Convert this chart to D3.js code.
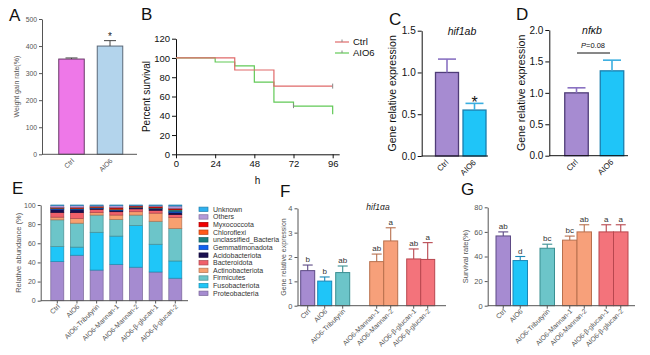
<!DOCTYPE html>
<html><head><meta charset="utf-8">
<script src="https://cdn.jsdelivr.net/npm/d3@7"></script>
<style>body{margin:0;background:#fff}</style>
</head><body><svg id="c" width="650" height="355"></svg>
<script>
// ================= DATA =================
const groupsAB = ["Ctrl", "AIO6"];
const weightGain = [352, 400];
const weightGainErr = [4, 20];
const ticksA = [0, 100, 200, 300, 400, 500];

const ctrlSurvHours = [0, 36, 60, 96];
const ctrlSurvPct = [100, 87.5, 70.8, 70.8];
const aio6SurvHours = [0, 24, 36, 48, 60, 72, 96];
const aio6SurvPct = [100, 95.8, 91.7, 75, 54.2, 50, 41.7];
const ticksBx = [0, 24, 48, 72, 96];
const ticksBy = [0, 20, 40, 60, 80, 100, 120];

const hif1ab = [1.0, 0.55];
const hif1abErr = [0.16, 0.08];
const ticksC = [0, 0.5, 1.0, 1.5];

const nfkb = [1.0, 1.35];
const nfkbErr = [0.08, 0.17];
const ticksD = [0, 0.5, 1.0, 1.5, 2.0];

const groupsEFG = ["Ctrl", "AIO6", "AIO6-Tributyrin", "AIO6-Mannan-1", "AIO6-Mannan-2", "AIO6-β-glucan-1", "AIO6-β-glucan-2"];
const proteobacteria       = [41, 47.5, 32, 38, 35, 30, 23.5];
const fusobacteriota       = [15.5, 8.5, 39.5, 29.5, 43.5, 29, 18];
const firmicutes           = [28, 25, 18, 17.5, 11, 24, 34];
const actinobacteriota     = [2.8, 5, 2.5, 4.5, 3.5, 8.5, 11.5];
const bacteroidota         = [5, 6, 3.5, 3.5, 3, 3, 3];
const acidobacteriota      = [3, 3, 1, 1.5, 1, 1.5, 2];
const gemmatimonadota      = [0.8, 0.8, 0.5, 0.5, 0.5, 0.5, 1.5];
const unclassifiedBacteria = [0.6, 0.5, 0.5, 0.5, 0.3, 0.5, 1.5];
const chloroflexi          = [0.3, 0.5, 0.5, 1, 0.7, 0.5, 0.5];
const myxococcota          = [0.5, 0.7, 0.5, 1, 0.5, 1, 1];
const others               = [2, 2, 1, 2, 0.5, 1, 2.5];
const unknown              = [0.5, 0.5, 0.5, 0.5, 0.5, 0.5, 1];
const ticksE = [0, 20, 40, 60, 80, 100];

const hif1aa = [1.44, 1.01, 1.36, 1.81, 2.66, 1.92, 1.9];
const hif1aaErr = [0.23, 0.17, 0.27, 0.31, 0.54, 0.41, 0.69];
const hif1aaLetters = ["b", "b", "ab", "ab", "a", "ab", "a"];
const ticksF = [0, 1, 2, 3, 4];

const survivalRate = [56.7, 36.7, 46.7, 53.3, 60, 60, 60];
const survivalErr = [3.3, 3.3, 3.3, 3.3, 5.8, 5.8, 5.8];
const survivalLetters = ["ab", "d", "bc", "bc", "ab", "a", "a"];
const ticksG = [0, 20, 40, 60, 80];

// ================= STYLE =================
const FONT = '"Liberation Sans", Arial, Helvetica, sans-serif';
const svg = d3.select("#c");
svg.append("rect").attr("width", 650).attr("height", 355).attr("fill", "#fff");
svg.style("font-family", FONT);

const colCtrlPurple = "#a68bd1", colAIO6Cyan = "#1fc5f8";
const fillEFG = ["#a68bd1", "#1fc5f8", "#6cc5c9", "#f7a07a", "#f7a07a", "#f3737b", "#f3737b"];
const strokeEFG = ["#5d4a85", "#1a88b8", "#3a8f92", "#b8704e", "#b8704e", "#b8474f", "#b8474f"];

function letter(t, x, y) {
  svg.append("text").attr("x", x).attr("y", y).attr("font-size", 17).attr("fill", "#111").text(t);
}

// positions from bar width + gaps (layout only)
function centersFrom(start, bw, gaps) {
  const out = [start + bw / 2];
  gaps.forEach(g => out.push(out[out.length - 1] + bw + g));
  return out;
}

function barPanel(o) {
  const y = d3.scaleLinear().domain([0, o.max]).range([o.bottom, o.top]);
  const x = o.x;
  const ax = svg.append("g").attr("transform", `translate(${o.left},0)`)
    .call(d3.axisLeft(y).tickValues(o.ticks).tickFormat(o.fmt).tickSizeInner(o.tick).tickSizeOuter(0).tickPadding(o.pad));
  ax.select(".domain").attr("stroke", o.axis).attr("stroke-width", o.sw);
  ax.selectAll(".tick line").attr("stroke", o.axis).attr("stroke-width", o.sw);
  ax.selectAll(".tick text").attr("fill", o.txt).attr("font-size", o.fs).attr("font-family", FONT);

  // bars
  svg.append("g").selectAll("rect").data(o.cats).join("rect")
    .attr("x", d => x(d) - o.bw / 2).attr("width", o.bw)
    .attr("y", (d, i) => y(o.vals[i])).attr("height", (d, i) => o.bottom - y(o.vals[i]))
    .attr("fill", (d, i) => o.fill[i]).attr("stroke", (d, i) => o.stroke[i]).attr("stroke-width", o.bsw);
  // error bars
  const eg = svg.append("g");
  o.cats.forEach((c, i) => {
    const cx = x(c), y1 = y(o.vals[i]), y2 = y(o.vals[i] + o.errs[i]);
    eg.append("line").attr("x1", cx).attr("x2", cx).attr("y1", y1).attr("y2", y2)
      .attr("stroke", o.ecol[i]).attr("stroke-width", o.esw);
    eg.append("line").attr("x1", cx - o.cap).attr("x2", cx + o.cap).attr("y1", y2).attr("y2", y2)
      .attr("stroke", o.ecol[i]).attr("stroke-width", o.esw);
    if (o.letters) {
      eg.append("text").attr("x", cx).attr("y", y2 - 3).attr("text-anchor", "middle")
        .attr("font-size", o.lfs).attr("fill", "#333").text(o.letters[i]);
    }
  });
  // x axis
  svg.append("line").attr("x1", o.left).attr("x2", o.right).attr("y1", o.bottom).attr("y2", o.bottom)
    .attr("stroke", o.axis).attr("stroke-width", o.sw);
  o.cats.forEach(c => {
    if (o.xtick) svg.append("line").attr("x1", x(c)).attr("x2", x(c)).attr("y1", o.bottom).attr("y2", o.bottom + o.xtick)
      .attr("stroke", o.axis).attr("stroke-width", o.sw);
    svg.append("text").attr("text-anchor", "end")
      .attr("transform", `translate(${x(c) + o.ldx},${o.bottom + o.ldy}) rotate(-45)`)
      .attr("font-size", o.xfs).attr("fill", o.txt).text(c);
  });
  // y label
  svg.append("text").attr("text-anchor", "middle")
    .attr("transform", `translate(${o.ylx},${(o.top + o.bottom) / 2}) rotate(-90)`)
    .attr("font-size", o.ylfs).attr("fill", o.yltxt || o.txt).text(o.ylabel);
  return { x, y };
}

// ================= PANEL A =================
letter("A", 9, 21);
const xA = d3.scalePoint().domain(groupsAB).range([71.5, 110]);
barPanel({
  x: xA, cats: groupsAB, vals: weightGain, errs: weightGainErr,
  max: 500, top: 19, bottom: 154.3, left: 42, right: 137, ticks: ticksA, fmt: d3.format("d"),
  tick: 3, pad: 2, axis: "#555", sw: 1, txt: "#555", fs: 6.8,
  bw: 25.5, bsw: 1, fill: ["#ee78e8", "#b3d4ec"], stroke: ["#6a3a68", "#5a6878"],
  ecol: ["#444", "#444"], esw: 1, cap: 6,
  xtick: 0, ldx: 3, ldy: 7, xfs: 6.8,
  ylabel: "Weight gain rate(%)", ylx: 19, ylfs: 7
});
svg.append("text").attr("x", xA("AIO6")).attr("y", 40).attr("text-anchor", "middle")
  .attr("font-size", 10).attr("fill", "#222").text("*");

// ================= PANEL B =================
letter("B", 141, 20);
const xB = d3.scaleLinear().domain([0, 100]).range([176, 339.2]);
const yB = d3.scaleLinear().domain([0, 120]).range([154.3, 38.7]);
const axBx = svg.append("g").attr("transform", "translate(0,154.3)")
  .call(d3.axisBottom(xB).tickValues(ticksBx).tickSizeInner(4).tickSizeOuter(0).tickPadding(2));
const axBy = svg.append("g").attr("transform", "translate(176,0)")
  .call(d3.axisLeft(yB).tickValues(ticksBy).tickSizeInner(4).tickSizeOuter(0).tickPadding(2));
[axBx, axBy].forEach(a => {
  a.selectAll("path,line").attr("stroke", "#111").attr("stroke-width", 1);
  a.selectAll("text").attr("fill", "#111").attr("font-size", 9.5).attr("font-family", FONT);
});
const stepLine = d3.line().x(d => xB(d[0])).y(d => yB(d[1])).curve(d3.curveStepAfter);
const colCtrlB = "#e06a6a", colAIO6B = "#62c957";
svg.append("path").datum(aio6SurvHours.map((h, i) => [h, aio6SurvPct[i]]))
  .attr("d", stepLine).attr("fill", "none").attr("stroke", colAIO6B).attr("stroke-width", 1.2);
svg.append("path").datum(ctrlSurvHours.map((h, i) => [h, ctrlSurvPct[i]]))
  .attr("d", stepLine).attr("fill", "none").attr("stroke", colCtrlB).attr("stroke-width", 1.2);
// censor ticks
svg.append("line").attr("x1", xB(96)).attr("x2", xB(96)).attr("y1", yB(70.8) - 2.5).attr("y2", yB(70.8) + 2.5)
  .attr("stroke", "#888").attr("stroke-width", 1);
svg.append("line").attr("x1", xB(72)).attr("x2", xB(72)).attr("y1", yB(50) - 2.5).attr("y2", yB(50) + 2)
  .attr("stroke", "#888").attr("stroke-width", 1);
svg.append("text").attr("text-anchor", "middle")
  .attr("transform", `translate(150,${(38.7 + 154.3) / 2}) rotate(-90)`)
  .attr("font-size", 10).attr("fill", "#111").text("Percent survival");
svg.append("text").attr("x", (176 + 339.2) / 2).attr("y", 184).attr("text-anchor", "middle")
  .attr("font-size", 10).attr("fill", "#111").text("h");
// legend
[["Ctrl", colCtrlB, 42], ["AIO6", colAIO6B, 53]].forEach(([t, c, yy]) => {
  svg.append("line").attr("x1", 335).attr("x2", 349).attr("y1", yy).attr("y2", yy).attr("stroke", c).attr("stroke-width", 1.2);
  svg.append("line").attr("x1", 342).attr("x2", 342).attr("y1", yy - 2.5).attr("y2", yy).attr("stroke", "#888").attr("stroke-width", 1);
  svg.append("text").attr("x", 353).attr("y", yy + 3.3).attr("font-size", 9.5).attr("fill", "#111").text(t);
});

// ================= PANEL C =================
letter("C", 389, 25);
const xC = d3.scalePoint().domain(groupsAB).range([447, 474.5]);
barPanel({
  x: xC, cats: groupsAB, vals: hif1ab, errs: hif1abErr,
  max: 1.5, top: 30.7, bottom: 156, left: 421.7, right: 488, ticks: ticksC, fmt: d3.format(".1f"),
  tick: 4, pad: 2, axis: "#111", sw: 1, txt: "#111", fs: 10,
  bw: 23, bsw: 1.3, fill: [colCtrlPurple, colAIO6Cyan], stroke: ["#4f3c78", "#1a7fae"],
  ecol: ["#8a72c2", "#3aaee0"], esw: 1.6, cap: 9,
  xtick: 0, ldx: 2, ldy: 7, xfs: 8,
  ylabel: "Gene relative expression", ylx: 396, ylfs: 10.5, yltxt: "#111"
});
svg.append("text").attr("x", 462).attr("y", 35).attr("text-anchor", "middle")
  .attr("font-size", 10.5).attr("font-style", "italic").attr("fill", "#111").text("hif1ab");
svg.append("text").attr("x", xC("AIO6")).attr("y", 108).attr("text-anchor", "middle")
  .attr("font-size", 16).attr("fill", "#111").text("*");

// ================= PANEL D =================
letter("D", 516, 20);
const xD = d3.scalePoint().domain(groupsAB).range([576.5, 612]);
barPanel({
  x: xD, cats: groupsAB, vals: nfkb, errs: nfkbErr,
  max: 2.0, top: 30, bottom: 155.7, left: 549.3, right: 628, ticks: ticksD, fmt: d3.format(".1f"),
  tick: 4, pad: 2, axis: "#111", sw: 1, txt: "#111", fs: 10,
  bw: 23.5, bsw: 1.3, fill: [colCtrlPurple, colAIO6Cyan], stroke: ["#4f3c78", "#1a7fae"],
  ecol: ["#8a72c2", "#3aaee0"], esw: 1.6, cap: 9,
  xtick: 0, ldx: 2, ldy: 7, xfs: 8,
  ylabel: "Gene relative expression", ylx: 525, ylfs: 10.5, yltxt: "#111"
});
svg.append("text").attr("x", 592).attr("y", 34).attr("text-anchor", "middle")
  .attr("font-size", 10.5).attr("font-style", "italic").attr("fill", "#111").text("nfκb");
const pText = svg.append("text").attr("x", 593).attr("y", 48).attr("text-anchor", "middle")
  .attr("font-size", 7.5).attr("fill", "#111");
pText.append("tspan").attr("font-style", "italic").text("P");
pText.append("tspan").text("=0.08");
svg.append("line").attr("x1", 577).attr("x2", 610).attr("y1", 53).attr("y2", 53).attr("stroke", "#111").attr("stroke-width", 1);

// ================= PANEL E =================
letter("E", 12, 194);
const phyla = [
  ["Unknown", unknown, "#2fb0ee"],
  ["Others", others, "#b49ad8"],
  ["Myxococcota", myxococcota, "#f00000"],
  ["Chloroflexi", chloroflexi, "#ff5a1a"],
  ["unclassified_Bacteria", unclassifiedBacteria, "#1a8080"],
  ["Gemmatimonadota", gemmatimonadota, "#1060f0"],
  ["Acidobacteriota", acidobacteriota, "#1a0f50"],
  ["Bacteroidota", bacteroidota, "#f0606a"],
  ["Actinobacteriota", actinobacteriota, "#f8a070"],
  ["Firmicutes", firmicutes, "#6cc5c9"],
  ["Fusobacteriota", fusobacteriota, "#1fc6f8"],
  ["Proteobacteria", proteobacteria, "#a58bd0"]
];
const stackKeys = phyla.map(p => p[0]).slice().reverse();
const tableE = groupsEFG.map((g, i) => {
  const row = { group: g };
  phyla.forEach(p => row[p[0]] = p[1][i]);
  return row;
});
const colorE = d3.scaleOrdinal().domain(phyla.map(p => p[0])).range(phyla.map(p => p[2]));
const xE = d3.scalePoint().domain(groupsEFG).range([57.3, 175.3]);
const yE = d3.scaleLinear().domain([0, 100]).range([300.7, 205]);
const stacked = d3.stack().keys(stackKeys)(tableE);
const axE = svg.append("g").attr("transform", "translate(40.7,0)")
  .call(d3.axisLeft(yE).tickValues(ticksE).tickSizeInner(3).tickSizeOuter(0).tickPadding(2));
axE.selectAll("path,line").attr("stroke", "#555");
axE.selectAll("text").attr("fill", "#555").attr("font-size", 7).attr("font-family", FONT);
svg.append("g").selectAll("g").data(stacked).join("g")
  .attr("fill", d => colorE(d.key)).attr("stroke", d => d3.color(colorE(d.key)).darker(0.9))
  .attr("stroke-width", 0.7)
  .selectAll("rect").data(d => d).join("rect")
  .attr("x", d => xE(d.data.group) - 6.5).attr("width", 13)
  .attr("y", d => yE(d[1])).attr("height", d => yE(d[0]) - yE(d[1]));
svg.append("line").attr("x1", 40.7).attr("x2", 188).attr("y1", 300.7).attr("y2", 300.7).attr("stroke", "#555");
groupsEFG.forEach(g => {
  svg.append("line").attr("x1", xE(g)).attr("x2", xE(g)).attr("y1", 300.7).attr("y2", 303.5).attr("stroke", "#555");
  svg.append("text").attr("text-anchor", "end")
    .attr("transform", `translate(${xE(g) + 3},${307}) rotate(-45)`)
    .attr("font-size", 6.8).attr("fill", "#555").text(g);
});
svg.append("text").attr("text-anchor", "middle")
  .attr("transform", `translate(21,${(205 + 300.7) / 2}) rotate(-90)`)
  .attr("font-size", 7.5).attr("fill", "#555").text("Relative abundance (%)");
// legend
const legY = d3.scalePoint().domain(phyla.map(p => p[0])).range([209.3, 293.3]);
phyla.forEach(p => {
  svg.append("rect").attr("x", 199).attr("y", legY(p[0]) - 2.2).attr("width", 9).attr("height", 4.4)
    .attr("fill", p[2]).attr("stroke", d3.color(p[2]).darker(0.9)).attr("stroke-width", 0.7);
  svg.append("text").attr("x", 213).attr("y", legY(p[0]) + 2.4).attr("font-size", 7).attr("fill", "#333").text(p[0]);
});

// ================= PANEL F =================
letter("F", 280, 197);
const xF = d3.scaleOrdinal().domain(groupsEFG).range(centersFrom(300.7, 14, [3, 4, 20, 0, 9, 0]));
barPanel({
  x: xF, cats: groupsEFG, vals: hif1aa, errs: hif1aaErr, letters: hif1aaLetters, lfs: 8,
  max: 4, top: 208.3, bottom: 305.7, left: 297.5, right: 446, ticks: ticksF, fmt: d3.format("d"),
  tick: 3, pad: 2, axis: "#555", sw: 1, txt: "#555", fs: 7.5,
  bw: 14, bsw: 1, fill: fillEFG, stroke: strokeEFG,
  ecol: strokeEFG, esw: 1.1, cap: 5,
  xtick: 3, ldx: 3, ldy: 6, xfs: 6.8,
  ylabel: "Gene relative expression", ylx: 285.5, ylfs: 7
});
svg.append("text").attr("x", 378).attr("y", 210).attr("text-anchor", "middle")
  .attr("font-size", 8.5).attr("font-style", "italic").attr("fill", "#222").text("hif1αa");

// ================= PANEL G =================
letter("G", 461, 195);
const xG = d3.scaleOrdinal().domain(groupsEFG).range(centersFrom(496, 14.5, [2.5, 12.5, 8, 0, 7.5, 0]));
barPanel({
  x: xG, cats: groupsEFG, vals: survivalRate, errs: survivalErr, letters: survivalLetters, lfs: 8,
  max: 80, top: 207.3, bottom: 305.7, left: 487.7, right: 635, ticks: ticksG, fmt: d3.format("d"),
  tick: 3, pad: 2, axis: "#555", sw: 1, txt: "#555", fs: 7.5,
  bw: 14.5, bsw: 1, fill: fillEFG, stroke: strokeEFG,
  ecol: strokeEFG, esw: 1.1, cap: 5,
  xtick: 3, ldx: 3, ldy: 6, xfs: 6.8,
  ylabel: "Survival rate(%)", ylx: 468, ylfs: 7.5
});
</script></body></html>
